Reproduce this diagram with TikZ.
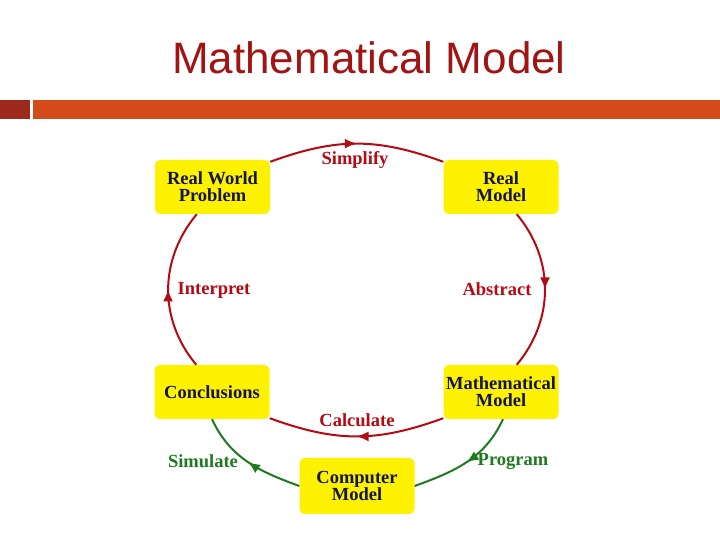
\documentclass[tikz,border=0pt]{standalone}
\usepackage{fontspec}
\setmainfont{Liberation Serif}
\newfontfamily\titlefont{Liberation Sans}
\usetikzlibrary{arrows.meta,decorations.markings}
\definecolor{titlered}{RGB}{160,20,20}
\definecolor{bardark}{RGB}{158,42,30}
\definecolor{barorange}{RGB}{210,75,25}
\definecolor{arcred}{RGB}{180,10,20}
\definecolor{arcgreen}{RGB}{30,122,30}
\definecolor{navytext}{RGB}{20,20,80}
\tikzset{
  box/.style={fill=yellow, rounded corners=5pt, minimum width=115pt, minimum height=54pt,
    inner sep=0pt, align=center, text=navytext, font=\fontsize{18.5}{17}\selectfont\bfseries},
  lbl/.style={font=\fontsize{18.5}{18}\selectfont\bfseries},
  midarrow/.style={postaction={decorate}, decoration={markings,
    mark=at position 0.5 with {\arrow{Latex[length=12pt,width=10pt]}}}},
  redarc/.style={draw=arcred, line width=2pt, midarrow, arcred},
  greenarc/.style={draw=arcgreen, line width=2pt, midarrow, arcgreen},
}
\begin{document}
\begin{tikzpicture}[x=1pt,y=1pt]
\useasboundingbox (0,0) rectangle (720,540);
% title and bar
\node[text=titlered, font=\titlefont\fontsize{44}{44}\selectfont] (title) at (369,482) {Mathematical Model};
\fill[bardark] (0,421) rectangle (30,440);
\fill[barorange] (33,421) rectangle (720,440);
% boxes
\node[box] (rwp) at (212.5,353) {Real World\\Problem};
\node[box] (rm) at (501,353) {Real\\Model};
\node[box] (con) at (212,148) {Conclusions};
\node[box] (mm) at (501,148) {Mathematical\\Model};
\node[box, minimum height=56pt] (comp) at (357,54) {Computer\\Model};
% red cycle
\draw[redarc] ([yshift=-2pt]rwp.north east) to[out=20,in=160,looseness=1.05] ([yshift=-2pt]rm.north west);
\draw[redarc] (rm.-60) to[out=-50,in=50,looseness=1] (mm.60);
\draw[redarc] ([yshift=1pt]mm.south west) to[out=-160,in=-20,looseness=1.05] ([yshift=1pt]con.south east);
\draw[redarc] (con.120) to[out=130,in=-130,looseness=1] (rwp.-120);
% green path
\draw[greenarc] ([xshift=2pt]mm.south) to[out=-115,in=20,looseness=1] (comp.east);
\draw[greenarc] (comp.west) to[out=160,in=-65,looseness=1] (con.south);
% labels
\node[lbl, text=arcred] (lsimp) at (355,380) {Simplify};
\node[lbl, text=arcred] (labs) at (497,251) {Abstract};
\node[lbl, text=arcred] (lcalc) at (357,120) {Calculate};
\node[lbl, text=arcred] (lint) at (214,250) {Interpret};
\node[lbl, text=arcgreen] (lprog) at (513,79) {Program};
\node[lbl, text=arcgreen] (lsim) at (203,79) {Simulate};
\end{tikzpicture}
\end{document}
